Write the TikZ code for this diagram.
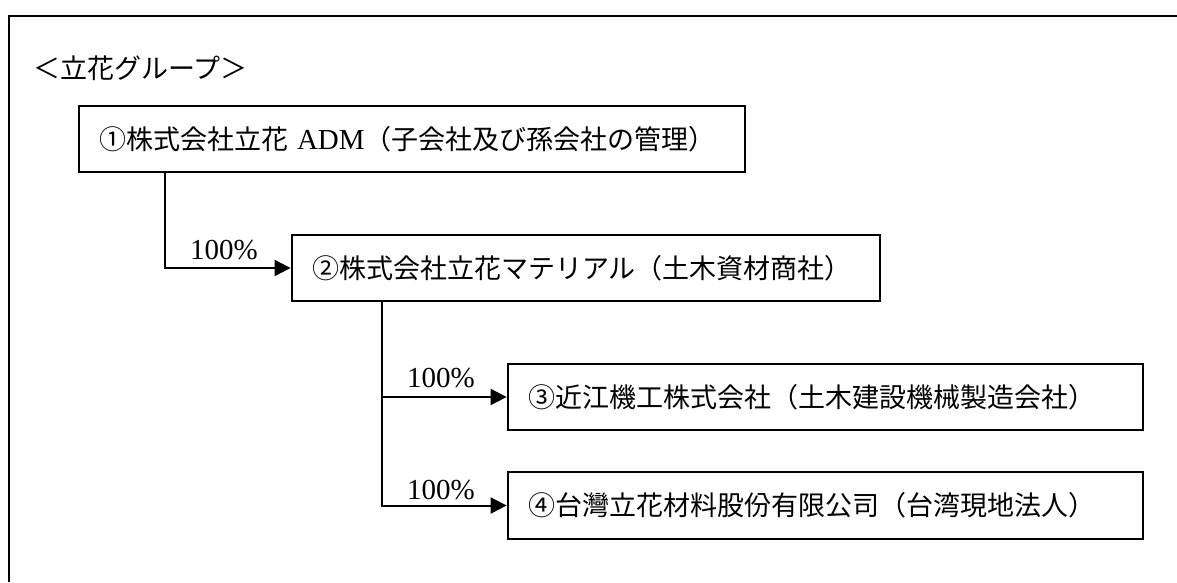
\documentclass[tikz,border=0pt]{standalone}
\usepackage{fontspec}
\setmainfont{Liberation Serif}
\newfontfamily\jp{Noto Sans CJK JP}
\usetikzlibrary{arrows.meta}

\begin{document}
\begin{tikzpicture}[x=1pt,y=-1pt,
  Unit/.style={draw,line width=2.8pt,minimum height=66pt,inner xsep=20pt,align=left,font=\fontsize{27}{32}\selectfont},
  Conn/.style={line width=2pt,-{Triangle[length=16pt,width=16pt]}},
  Pct/.style={inner sep=0pt,font=\fontsize{29}{34}\selectfont}]
\useasboundingbox (0,0) rectangle (1177,582);
\draw[line width=2.8pt] (9,582) -- (9,16) -- (1177,16); % the frame
\node[anchor=west,inner sep=0pt,font=\fontsize{27}{32}\selectfont] (Title) at (33,68) {\jp ＜立花グループ＞};

\node[Unit,text width=626pt] (ADM) at (412,139) {{\jp ①株式会社立花}~{\fontsize{29}{32}\selectfont ADM}{\jp （子会社及び孫会社の管理）}};
\node[Unit,text width=548pt] (Material) at (586,268) {{\jp ②株式会社立花マテリアル（土木資材商社）}};
\node[Unit,text width=595pt] (Omi) at (825.5,397) {{\jp ③近江機工株式会社（土木建設機械製造会社）}};
\node[Unit,text width=595pt,minimum height=67pt] (Taiwan) at (825.5,505.5) {{\jp ④台灣立花材料股份有限公司（台湾現地法人）}};

\coordinate (RootA) at ([xshift=87pt]ADM.south west);
\coordinate (RootB) at ([xshift=91pt]Material.south west);
\draw[Conn] (RootA) |- (Material.west);
\draw[Conn] (RootB) |- (Omi.west);
\draw[Conn] (RootB) |- (Taiwan.west);

\node[Pct] (PctA) at (224,250) {100\%};
\node[Pct] (PctB) at (441,378) {100\%};
\node[Pct] (PctC) at (441,490) {100\%};
\end{tikzpicture}
\end{document}
